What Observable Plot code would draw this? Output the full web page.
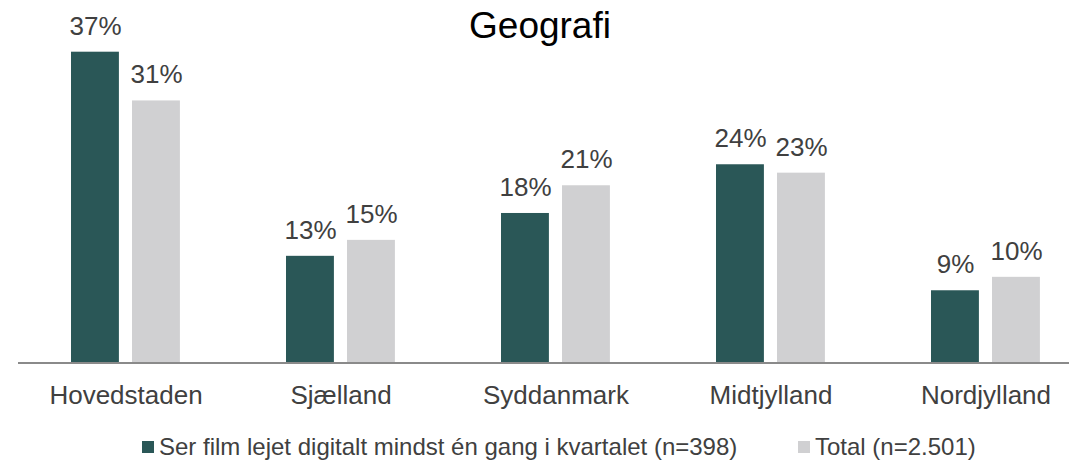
<!DOCTYPE html>
<html>
<head>
<meta charset="utf-8">
<script src="https://cdn.jsdelivr.net/npm/d3@7"></script>
<script src="https://cdn.jsdelivr.net/npm/@observablehq/plot@0.6"></script>
<style>
  html, body { margin: 0; padding: 0; background: #fff; }
  #wrap { position: relative; width: 1069px; height: 461px; font-family: "Liberation Sans", Arial, sans-serif; overflow: hidden; }
  #chart { position: absolute; left: 0; top: 0; }
  #title { position: absolute; left: 0; width: 1080px; top: 7px; text-align: center; font-size: 37px; line-height: 37px; color: #000; }
  .leg { position: absolute; top: 434.7px; display: flex; align-items: center; font-size: 24px; line-height: 24px; color: #404040; white-space: nowrap; }
  .sw { width: 12px; height: 12px; margin-right: 5px; }
</style>
</head>
<body>
<div id="wrap">
  <div id="chart"></div>
  <div id="title">Geografi</div>
</div>
<script>
const title = "Geografi";
const regions = ["Hovedstaden", "Sjælland", "Syddanmark", "Midtjylland", "Nordjylland"];
const seriesNames = ["Ser film lejet digitalt mindst én gang i kvartalet (n=398)", "Total (n=2.501)"];
const renters = [37.0, 12.7, 17.8, 23.6, 8.6];
const total = [31.2, 14.6, 21.1, 22.6, 10.2];
const colors = ["#2a5757", "#d0d0d2"];

const data = [];
regions.forEach((r, i) => {
  data.push({region: r, series: seriesNames[0], value: renters[i]});
  data.push({region: r, series: seriesNames[1], value: total[i]});
});
const s0 = data.filter(d => d.series === seriesNames[0]);
const s1 = data.filter(d => d.series === seriesNames[1]);
const fmt = d => Math.round(d.value) + "%";

const plot = Plot.plot({
  width: 1069,
  height: 420,
  marginLeft: 18,
  marginRight: 0,
  marginTop: 51.7,
  marginBottom: 57.5,
  style: {fontFamily: "'Liberation Sans', Arial, sans-serif", color: "#404040", background: "transparent", overflow: "visible"},
  x: {domain: regions, range: [18, 1093.5], padding: 0, axis: null},
  y: {domain: [0, 37], axis: null},
  color: {domain: seriesNames, range: colors},
  marks: [
    Plot.barY(s0, {x: "region", y: "value", fill: "series", insetLeft: 53, insetRight: 114.1}),
    Plot.barY(s1, {x: "region", y: "value", fill: "series", insetLeft: 114, insetRight: 53.1}),
    Plot.ruleY([0], {stroke: "#8a8a8a", strokeWidth: 2}),
    Plot.text(s0, {x: "region", y: "value", text: fmt, dx: -30.5, dy: -17.5, lineAnchor: "bottom", fontSize: 26, fill: "#404040"}),
    Plot.text(s1, {x: "region", y: "value", text: fmt, dx: 30.5, dy: -17.5, lineAnchor: "bottom", fontSize: 26, fill: "#404040"}),
    Plot.axisX({tickSize: 0, tickPadding: 23, fontSize: 26, label: null, fill: "#404040"})
  ]
});
document.getElementById("chart").appendChild(plot);

const legLefts = [142, 798];
const wrap = document.getElementById("wrap");
seriesNames.forEach((name, i) => {
  const item = document.createElement("div");
  item.className = "leg";
  item.style.left = legLefts[i] + "px";
  const sw = document.createElement("span");
  sw.className = "sw";
  sw.style.background = colors[i];
  const tx = document.createElement("span");
  tx.textContent = name;
  item.appendChild(sw);
  item.appendChild(tx);
  wrap.appendChild(item);
});
</script>
</body>
</html>
